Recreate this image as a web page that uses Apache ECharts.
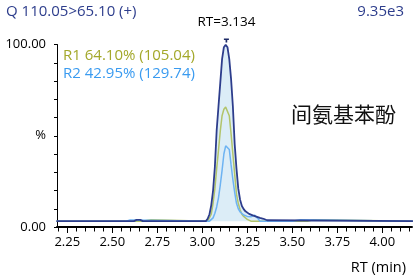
<!DOCTYPE html>
<html><head><meta charset="utf-8">
<script src="https://cdn.jsdelivr.net/npm/echarts@6/dist/echarts.min.js"></script>
<style>html,body{margin:0;padding:0;background:#fff}#c{width:414px;height:276px}</style>
</head><body><div id="c"></div>
<script>
// ---- data (RT in min, intensity in %) ----
const mainRT  = [2.19,2.62,2.635,2.655,2.67,3.02,3.03,3.04,3.05,3.06,3.07,3.08,3.09,3.10,3.11,3.12,3.13,3.134,3.14,3.15,3.16,3.17,3.18,3.19,3.20,3.21,3.22,3.23,3.24,3.25,3.26,3.27,3.28,3.29,3.30,3.31,3.32,3.33,3.34,3.35,3.36,3.37,4.17];
const mainVal = [3.2,3.2,3.9,3.9,3.2,3.2,4.5,7,12,20,33,53,66,79,92,98.5,99.8,100,98.5,92,81,66,45.5,32,21,15,11.5,9.8,8.6,7.8,7.2,6.8,6.4,6.1,5.7,5.3,5,4.8,4.5,4.1,3.7,3.2,3.2];
const r1RT  = [2.19,2.665,2.675,2.715,2.725,3.03,3.04,3.05,3.06,3.07,3.08,3.09,3.10,3.11,3.12,3.13,3.134,3.14,3.15,3.16,3.17,3.18,3.19,3.20,3.21,3.22,3.23,3.24,3.25,3.26,3.27,3.585,3.595,3.615,3.625,4.17];
const r1Val = [3.2,3.2,4,4,3.2,3.2,4,7,13,21,32,42,52.5,61,64.5,65.7,65.7,65,61,51,40,29,18,13,9.5,7,5.8,5,4.2,3.6,3.2,3.2,4,4,3.2,3.2];
const r2RT  = [2.19,2.575,2.585,2.60,2.61,3.04,3.05,3.06,3.07,3.08,3.09,3.10,3.11,3.12,3.13,3.136,3.14,3.15,3.16,3.17,3.18,3.19,3.20,3.21,3.22,3.23,3.24,3.25,3.26,3.27,3.28,3.29,3.30,3.31,3.32,3.50,3.51,3.545,3.555,4.17];
const r2Val = [3.2,3.2,3.9,3.9,3.2,3.2,3.6,5,7.5,11,16,23,31,40,44.5,45.3,45,42.5,34,26,19,13,10,8.3,7.3,6.6,6.2,5.8,5.6,5.6,6.3,6.5,6.2,4.5,3.2,3.2,4,4,3.2,3.2];
const baseline = 3.2;
const peakRT = 3.134, peakVal = 100;
const majorTicks = [2.25,2.50,2.75,3.00,3.25,3.50,3.75,4.00];
const minorTicks = [2.20,2.30,2.35,2.40,2.45,2.55,2.60,2.65,2.70,2.80,2.85,2.90,2.95,3.05,3.10,3.15,3.20,3.30,3.35,3.40,3.45,3.55,3.60,3.65,3.70,3.80,3.85,3.90,3.95,4.05,4.10,4.15];
const titleLeft = 'Q 110.05>65.10 (+)';
const titleRight = '9.35e3';
const r1Label = 'R1 64.10% (105.04)';
const r2Label = 'R2 42.95% (129.74)';
const compound = '间氨基苯酚';
const xName = 'RT (min)';

const zip = (a,b)=>a.map((x,i)=>[x,b[i]]);
const FF = '"Open Sans", "Noto Sans", sans-serif';
const NAVY = '#2d3d8c';

const chart = echarts.init(document.getElementById('c'), null, {renderer:'canvas'});
chart.setOption({
  animation:false,
  backgroundColor:'#fff',
  textStyle:{fontFamily:FF},
  grid:{left:57,right:2,top:44.5,bottom:49,containLabel:false},
  title:[
    {text:titleLeft,left:1,top:-1,textStyle:{fontFamily:FF,fontSize:15,fontWeight:'normal',color:NAVY}},
    {text:titleRight,right:5,top:-1,textStyle:{fontFamily:FF,fontSize:15,fontWeight:'normal',color:NAVY}},
    {text:r1Label,left:58,top:43,textStyle:{fontFamily:FF,fontSize:15,fontWeight:'normal',color:'#a3a82a'}},
    {text:r2Label,left:58,top:61,textStyle:{fontFamily:FF,fontSize:15,fontWeight:'normal',color:'#3a9bf0'}},
    {text:compound,left:286,top:99,textStyle:{fontFamily:'"Noto Sans CJK SC", sans-serif',fontSize:21,fontWeight:'normal',color:'#111'}},
    {text:xName,right:3,top:255,textStyle:{fontFamily:FF,fontSize:14.5,fontWeight:'normal',color:'#000'}}
  ],
  xAxis:[
    {type:'value',min:2.193,max:4.165,position:'bottom',
     axisLine:{show:true,onZero:false,lineStyle:{color:'#000',width:2}},
     axisTick:{show:true,customValues:majorTicks,length:6,lineStyle:{color:'#000',width:1}},
     axisLabel:{show:true,customValues:majorTicks,margin:9,fontFamily:FF,fontSize:13,color:'#000',formatter:v=>v.toFixed(2)},
     splitLine:{show:false}},
    {type:'value',min:2.193,max:4.165,position:'bottom',
     axisLine:{show:false,onZero:false},
     axisTick:{show:true,customValues:minorTicks,length:4.5,lineStyle:{color:'#000',width:1}},
     axisLabel:{show:false},splitLine:{show:false}}
  ],
  yAxis:{type:'value',min:0,max:100,interval:10,
    axisLine:{show:true,lineStyle:{color:'#000',width:1}},
    axisTick:{show:true,length:3,lineStyle:{color:'#000'}},
    axisLabel:{margin:11,fontFamily:FF,fontSize:13,color:'#000',
      formatter:v=>v===100?'100.00':(v===50?'%':(v===0?'0.00':''))},
    splitLine:{show:false}},
  series:[
    {type:'line',name:'area',data:zip(mainRT,mainVal),showSymbol:false,symbol:'none',
     lineStyle:{width:0,opacity:0},areaStyle:{color:'#dcedf7',opacity:1,origin:baseline},z:1},
    {type:'line',name:'R1',data:zip(r1RT,r1Val),symbol:'none',lineStyle:{color:'#b2c46a',width:1.5},z:2},
    {type:'line',name:'R2',data:zip(r2RT,r2Val),symbol:'none',lineStyle:{color:'#6db3f2',width:1.5},z:3},
    {type:'line',name:'main',data:zip(mainRT,mainVal),symbol:'none',lineStyle:{color:NAVY,width:1.8},z:4,
     markPoint:{symbol:'path://M0,0H6V2H4V5H2V2H0Z',symbolSize:[5,4],symbolOffset:[0,-4],
       itemStyle:{color:'#1d2a66'},
       label:{show:true,position:'top',distance:9,formatter:'RT=3.134',fontFamily:FF,fontSize:13.5,color:'#000'},
       data:[{coord:[peakRT,peakVal]}]}}
  ]
});
</script></body></html>
